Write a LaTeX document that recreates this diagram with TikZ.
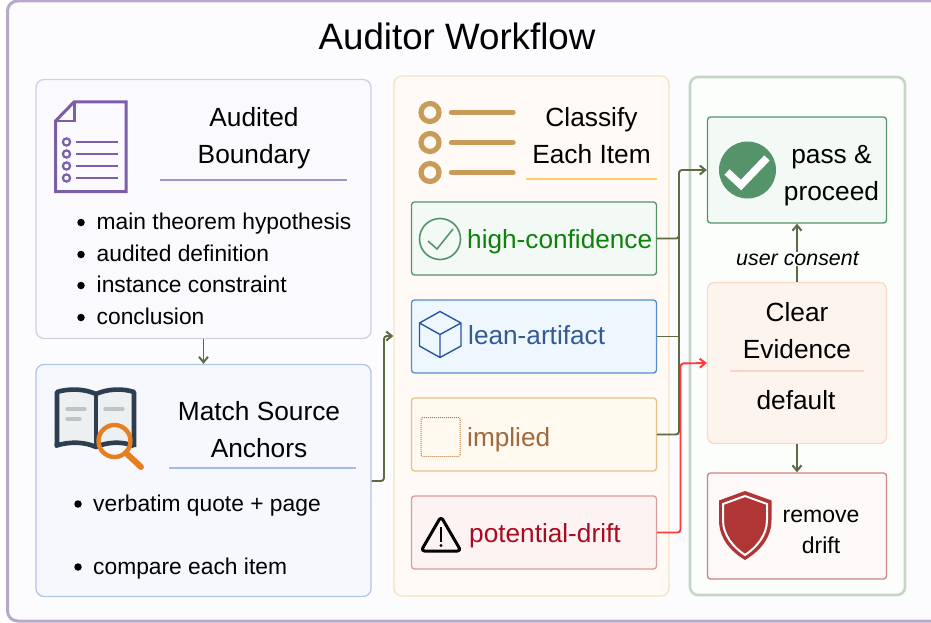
\documentclass[tikz,border=0pt]{standalone}
\usepackage{fontspec}
\setmainfont{Liberation Sans}
\usetikzlibrary{arrows.meta,calc}
\definecolor{frameC}{HTML}{B8A9CC}
\definecolor{pageC}{HTML}{FCFCFF}
\definecolor{linkC}{HTML}{5B6B42}
\definecolor{redL}{HTML}{FF3B3B}
\definecolor{purp}{HTML}{7B5EA7}
\definecolor{greenI}{HTML}{55936A}
\definecolor{tanI}{HTML}{C89B58}
\definecolor{navy}{HTML}{2C3E50}
\definecolor{orng}{HTML}{E67E22}
\definecolor{shield}{HTML}{B03535}
\definecolor{boundD}{HTML}{D5CCE6}
\definecolor{boundF}{HTML}{FAFAFE}
\definecolor{anchD}{HTML}{B0C6E5}
\definecolor{anchF}{HTML}{F6F8FD}
\definecolor{clasD}{HTML}{F7E2BE}
\definecolor{clasF}{HTML}{FFFAF5}
\definecolor{resD}{HTML}{C5D6C6}
\definecolor{resF}{HTML}{FCFEFC}
\definecolor{highF}{HTML}{F3F9F4}
\definecolor{leanD}{HTML}{568CCC}
\definecolor{leanF}{HTML}{EEF6FE}
\definecolor{implD}{HTML}{E1C18C}
\definecolor{implF}{HTML}{FFF9EF}
\definecolor{driftD}{HTML}{DC9B9B}
\definecolor{driftF}{HTML}{FDF3F3}
\definecolor{clearD}{HTML}{FDD8C6}
\definecolor{clearF}{HTML}{FEF4EE}
\definecolor{remD}{HTML}{D08282}
\definecolor{remF}{HTML}{FDF9F9}
\definecolor{ruleP}{HTML}{A592CC}
\definecolor{ruleB}{HTML}{A0BEE4}
\definecolor{ruleY}{HTML}{FFCD64}
\definecolor{ruleO}{HTML}{FDD4C0}
\definecolor{txtG}{HTML}{0C820C}
\definecolor{txtB}{HTML}{325A96}
\definecolor{txtT}{HTML}{A0693C}
\definecolor{txtR}{HTML}{AA0A1E}
\definecolor{pageI}{HTML}{ECF0F1}
\definecolor{barI}{HTML}{BEC3C7}
\definecolor{cubeI}{HTML}{2855A5}
\definecolor{dotI}{HTML}{BE783C}
\tikzset{
  x=1pt,y=-1pt,
  panel/.style={rectangle,rounded corners=8pt,line width=1.3pt,inner sep=0pt},
  card/.style={rectangle,rounded corners=3pt,line width=1.3pt,inner sep=0pt},
  label/.style={inner sep=0pt,align=center,font=\fontsize{26.3}{37}\selectfont},
  tag/.style={inner sep=0pt,anchor=base west,font=\fontsize{26.2}{30}\selectfont},
  item/.style={inner sep=0pt,anchor=base west,font=\fontsize{22.8}{27}\selectfont},
  link/.style={draw=linkC,line width=1.9pt,rounded corners=3pt},
  redlink/.style={draw=redL,line width=1.9pt,rounded corners=3pt},
  tip/.style={-{Straight Barb[length=5.5pt,width=9pt,line width=2pt]}},
  rule/.style={line width=1.7pt},
  bullet/.style={circle,fill=black,inner sep=0pt,minimum size=7.5pt},
}
\begin{document}
\begin{tikzpicture}
\useasboundingbox (0,0) rectangle (931,623);
\fill[white] (0,0) rectangle (931,623);
\draw[frameC,fill=pageC,line width=3pt,rounded corners=10pt] (7.5,1) rectangle (945,621);
\node[inner sep=0pt,font=\fontsize{36.7}{40}\selectfont] (title) at (457,36) {Auditor Workflow};

% panels
\node[panel,draw=boundD,fill=boundF,minimum width=335,minimum height=259] (boundary) at (203.5,209) {};
\node[panel,draw=anchD,fill=anchF,minimum width=335,minimum height=232] (anchors) at (203.5,480.5) {};
\node[panel,draw=clasD,fill=clasF,minimum width=275,minimum height=520] (classify) at (531.5,336) {};
\node[panel,draw=resD,fill=resF,line width=2.6pt,minimum width=215,minimum height=518] (result) at (797.5,336) {};

% cards
\node[card,draw=greenI,fill=highF,minimum width=245,minimum height=73] (high) at (534,238.5) {};
\node[card,draw=leanD,fill=leanF,minimum width=245,minimum height=73] (lean) at (534,336.5) {};
\node[card,draw=implD,fill=implF,minimum width=245,minimum height=73] (implied) at (534,434.5) {};
\node[card,draw=driftD,fill=driftF,minimum width=245,minimum height=73] (drift) at (534,532.5) {};
\node[card,draw=greenI,fill=highF,minimum width=179,minimum height=106] (pass) at (797,170) {};
\node[panel,rounded corners=7pt,draw=clearD,fill=clearF,minimum width=179,minimum height=161] (clear) at (797,363) {};
\node[card,draw=remD,fill=remF,minimum width=179,minimum height=106] (remove) at (797,526) {};

% headings
\node[label] (t1) at (254,138.5) {Audited\\Boundary};
\draw[rule,draw=ruleP] (160,180) -- (347,180);
\node[label] (t2) at (259,430) {Match Source\\Anchors};
\draw[rule,draw=ruleB] (169,468) -- (356,468);
\node[label] (t3) at (591.5,135.5) {Classify\\Each Item};
\draw[rule,draw=ruleY] (526,179) -- (657,179);
\node[label] (t4) at (797,330.5) {Clear\\Evidence};
\draw[rule,draw=ruleO] (730,371) -- (864,371);
\node[label] (t5) at (796,400) {default};
\node[label] (t6) at (831.5,175.5) {pass \&\\proceed};
\node[label,font=\fontsize{23}{31}\selectfont] (t7) at (821,532) {remove\\drift};

% item lists
\foreach \n/\y/\t in {a/229/main theorem hypothesis,b/261/audited definition,c/292/instance constraint,d/324/conclusion}{
  \node[item] (i\n) at (96.5,\y) {\t};
  \node[bullet] (b\n) at (81,{\y-6.5}) {};
}
\foreach \n/\y/\t in {e/511/verbatim quote + page,f/574/compare each item}{
  \node[item] (i\n) at (93,\y) {\t};
  \node[bullet] (b\n) at (78,{\y-7}) {};
}

% tags
\node[tag,text=txtG] (thigh) at (467,248) {high-confidence};
\node[tag,text=txtB] (tlean) at (468,344) {lean-artifact};
\node[tag,text=txtT] (timpl) at (467,446) {implied};
\node[tag,text=txtR] (tdrift) at (469,542) {potential-drift};

% document icon
\draw[purp,line width=3pt,line join=miter] (74,102) -- (126,102) -- (126,191.5) -- (55.5,191.5) -- (55.5,121) -- cycle;
\draw[purp,line width=2.6pt] (55.5,121) -- (74.5,121) -- (74.5,102);
\foreach \y in {142,154,166,178}{
  \draw[purp,line width=2.2pt] (66.5,\y) circle (3.6);
  \draw[purp,line width=2.2pt] (75.5,\y) -- (118,\y);
}

% book icon
\fill[pageI] (57,392) .. controls (70,388) and (85,389) .. (96,394) -- (96,447) .. controls (85,442) and (70,441) .. (57,446) -- cycle;
\fill[pageI] (96,394) .. controls (107,389) and (122,388) .. (134,392) -- (134,446) .. controls (122,441) and (107,442) .. (96,447) -- cycle;
\draw[navy,line width=4.6pt,line join=round] (57,447) -- (57,392) .. controls (70,388) and (85,389) .. (96,394) .. controls (107,389) and (122,388) .. (134,392) -- (134,447);
\draw[navy,line width=4.6pt] (96,394) -- (96,449);
\draw[navy,line width=4.6pt,line join=round] (55,446) .. controls (70,441) and (85,442) .. (96,447) .. controls (107,442) and (122,441) .. (134,446);
\draw[barI,line width=3.4pt,line cap=round] (67,409) -- (85,409) (67,419) -- (80,419) (105,409) -- (123,409);
\draw[orng,line width=4.4pt] (114.5,441) circle (16);
\draw[orng,line width=6pt,line cap=round] (126,453) -- (141,467);

% list icon
\foreach \y in {112.5,142.5,172.5}{
  \draw[tanI,line width=5.2pt] (430,\y) circle (9);
  \draw[tanI,line width=5.4pt,line cap=round] (451.5,\y) -- (513,\y);
}

% tag icons
\draw[greenI,line width=1.6pt] (440,239) circle (20.5);
\draw[greenI,line width=1.6pt] (428,241) -- (437,249) -- (453,229);
\draw[cubeI,line width=1.4pt,line join=round]
  (440,311.5) -- (461,323) -- (461,346) -- (440,357.5) -- (419.5,346) -- (419.5,323) -- cycle
  (419.5,323) -- (440,334.5) -- (461,323) (440,334.5) -- (440,357.5);
\draw[dotI,line width=1pt,densely dotted,rounded corners=1.5pt] (421,417.5) rectangle (460,456.5);
\draw[black,line width=3pt,line join=round,rounded corners=3.5pt] (441,516.5) -- (461,551) -- (421,551) -- cycle;
\draw[black,line width=2.6pt] (441,527) -- (441,542);
\fill[black] (441,545.5) circle (1.6);

% pass icon
\fill[greenI] (747.5,170) circle (28.5);
\draw[white,line width=7.5pt] (727,172) -- (741,185) -- (767,158);

% shield icon
\path[fill=shield] (745,491) -- (771.5,500.5) -- (771.5,520) .. controls (771.5,538) and (760,551) .. (745,560) .. controls (730,551) and (719,538) .. (719,520) -- (719,500.5) -- cycle;
\draw[white,line width=2pt,fill=shield] (745,496) -- (767,504) -- (767,520) .. controls (767,535) and (757,547) .. (745,555) .. controls (733,547) and (723,535) .. (723,520) -- (723,504) -- cycle;

% connectors
\draw[link,tip] (boundary.south) -- (anchors.north);
\draw[link,tip] (anchors.east |- 0,481) -- (384,481) -- (384,336) -- (classify.west);
\draw[redlink,tip] (drift.east) -- (680.5,532.5) -- (680.5,363.5) -- (clear.west);
\draw[link] (high.east) -- (679,238.5) -- (679,210);
\draw[link] (lean.east) -- (679,336.5);
\draw[link,tip] (implied.east) -- (679,434.5) -- (679,170) -- (pass.west);
\draw[link,tip] (clear.south) -- (remove.north);
\node[inner sep=0pt,font=\itshape\fontsize{21.4}{24}\selectfont] (consent) at (797.5,259) {user consent};
\draw[link] (clear.north) -- (consent.south -| clear.north);
\draw[link,tip] (consent.north -| pass.south) -- (pass.south);
\end{tikzpicture}
\end{document}
